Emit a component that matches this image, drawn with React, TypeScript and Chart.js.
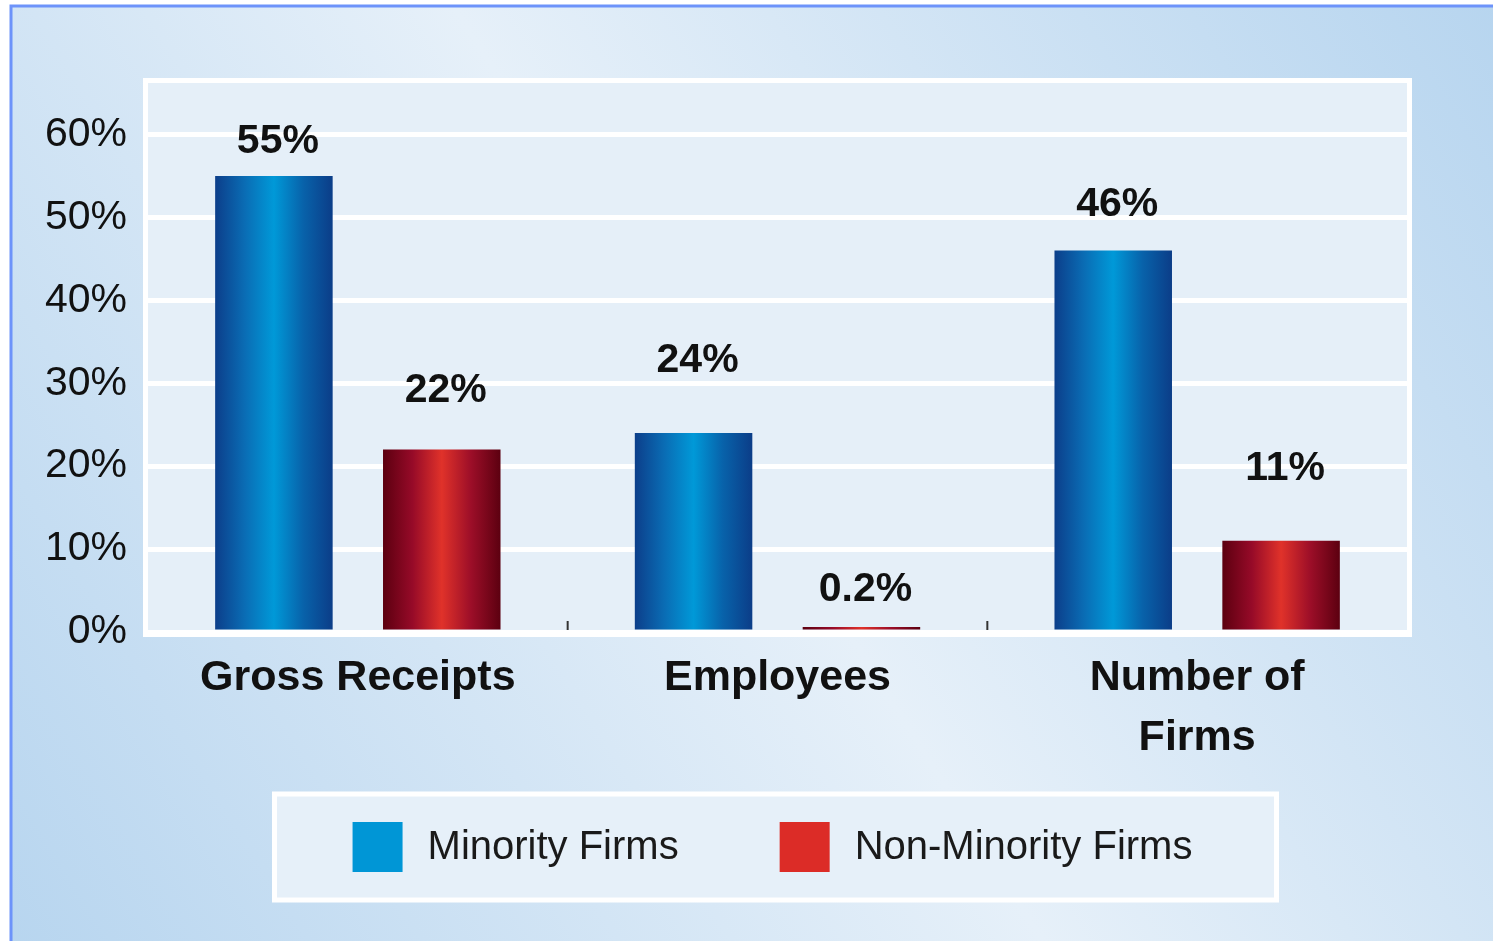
import React, { useEffect, useRef } from "react";
import { Chart, registerables } from "chart.js";

Chart.register(...registerables);

// ---- data ----
const categories: (string | string[])[] = ["Gross Receipts", "Employees", ["Number of", "Firms"]];
const seriesNames = ["Minority Firms", "Non-Minority Firms"];
const minorityFirms = [55, 24, 46];
const nonMinorityFirms = [22, 0.2, 11];
const yTickValues = [0, 10, 20, 30, 40, 50, 60];
const yMax = 66.2;

// ---- styling ----
const minorityLabelLift = [34, 72, 46];
const nonMinorityLabelLift = [59, 37, 72];
const legendColors = ["#0096d6", "#dc2c27"];
const gradientStops = [
  ["#0c3e8a", "#0a6cb4", "#0099d8", "#0862aa", "#0b3d88"],
  ["#5c0010", "#960a28", "#e0322a", "#9c0e28", "#5c0010"],
];
const CAT_PCT = 0.8;
const BAR_PCT = 0.7;
const FONT = '"Liberation Sans", Arial, sans-serif';

function barFill(ctx: any) {
  const chart = ctx.chart;
  const ds = ctx.datasetIndex;
  const xs = chart.scales && chart.scales.x;
  if (!xs || ctx.dataIndex == null || !chart.chartArea) return legendColors[ds];
  const n = chart.data.labels.length;
  const catW = xs.width / n;
  const slot = (catW * CAT_PCT) / 2;
  const center = xs.getPixelForValue(ctx.dataIndex) + (ds - 0.5) * slot;
  const half = (slot * BAR_PCT) / 2;
  const g = chart.ctx.createLinearGradient(center - half, 0, center + half, 0);
  const stops = gradientStops[ds];
  stops.forEach((c: string, i: number) => g.addColorStop(i / (stops.length - 1), c));
  return g;
}

const decor = {
  id: "decor",
  beforeDraw(chart: any) {
    const { ctx, width, height, chartArea: a } = chart;
    ctx.save();
    ctx.fillStyle = "#ffffff";
    ctx.fillRect(0, 0, width, height);
    const g = ctx.createLinearGradient(0, height, width, 0);
    g.addColorStop(0, "#b7d5ef");
    g.addColorStop(0.5, "#e6f0f9");
    g.addColorStop(1, "#b7d5ef");
    ctx.fillStyle = g;
    ctx.fillRect(11, 6, width - 11, height - 6);
    ctx.strokeStyle = "#6d93fa";
    ctx.lineWidth = 3;
    ctx.beginPath();
    ctx.moveTo(11, height);
    ctx.lineTo(11, 6);
    ctx.lineTo(width, 6);
    ctx.stroke();
    ctx.fillStyle = "#e5eff8";
    ctx.fillRect(a.left, a.top, a.right - a.left, a.bottom - a.top);
    ctx.restore();
  },
  beforeDatasetsDraw(chart: any) {
    const { ctx, chartArea: a } = chart;
    const xs = chart.scales.x;
    ctx.save();
    ctx.strokeStyle = "#ffffff";
    ctx.lineWidth = 5;
    ctx.strokeRect(a.left - 2.5, a.top - 2.5, a.right - a.left + 5, a.bottom - a.top + 5);
    ctx.strokeStyle = "#333333";
    ctx.lineWidth = 2;
    const n = chart.data.labels.length;
    for (let i = 0; i < n - 1; i++) {
      const bx = (xs.getPixelForValue(i) + xs.getPixelForValue(i + 1)) / 2;
      ctx.beginPath();
      ctx.moveTo(bx, a.bottom - 11);
      ctx.lineTo(bx, a.bottom - 2);
      ctx.stroke();
    }
    ctx.restore();
  },
  afterDatasetsDraw(chart: any) {
    const { ctx } = chart;
    ctx.save();
    ctx.font = `bold 41px ${FONT}`;
    ctx.fillStyle = "#111111";
    ctx.textAlign = "center";
    ctx.textBaseline = "middle";
    const lifts = [minorityLabelLift, nonMinorityLabelLift];
    chart.data.datasets.forEach((ds: any, di: number) => {
      const meta = chart.getDatasetMeta(di);
      meta.data.forEach((el: any, i: number) => {
        const v = ds.data[i];
        ctx.fillText(`${v}%`, el.x + 4, el.y - lifts[di][i]);
      });
    });
    ctx.restore();
  },
  afterDraw(chart: any) {
    const { ctx, chartArea: a } = chart;
    const cx = (a.left + a.right) / 2 - 2;
    const boxW = 1002;
    const boxH = 106;
    const boxTop = 794;
    ctx.save();
    ctx.fillStyle = "#e6f0f9";
    ctx.fillRect(cx - boxW / 2, boxTop, boxW, boxH);
    ctx.strokeStyle = "#ffffff";
    ctx.lineWidth = 5;
    ctx.strokeRect(cx - boxW / 2, boxTop, boxW, boxH);
    ctx.font = `40px ${FONT}`;
    ctx.textBaseline = "middle";
    ctx.textAlign = "left";
    const sw = 50;
    const gapText = 25;
    const gapItem = 101;
    const names = chart.data.datasets.map((d: any) => d.label);
    const widths = names.map((t: string) => ctx.measureText(t).width);
    const total = widths.reduce((s: number, w: number) => s + sw + gapText + w, 0) + gapItem * (names.length - 1);
    let x = cx - total / 2 - 3;
    const cy = boxTop + boxH / 2;
    names.forEach((t: string, i: number) => {
      ctx.fillStyle = legendColors[i];
      ctx.fillRect(x, cy - sw / 2, sw, sw);
      ctx.fillStyle = "#1a1a1a";
      ctx.fillText(t, x + sw + gapText, cy + 1);
      x += sw + gapText + widths[i] + gapItem;
    });
    ctx.restore();
  },
};

export default function App() {
  const ref = useRef<HTMLCanvasElement>(null);
  useEffect(() => {
    if (!ref.current) return;
    const chart = new Chart(ref.current, {
      type: "bar",
      data: {
        labels: categories as any,
        datasets: [
          {
            label: seriesNames[0],
            data: minorityFirms,
            backgroundColor: barFill as any,
            borderWidth: 0,
            categoryPercentage: CAT_PCT,
            barPercentage: BAR_PCT,
          },
          {
            label: seriesNames[1],
            data: nonMinorityFirms,
            backgroundColor: barFill as any,
            borderWidth: 0,
            categoryPercentage: CAT_PCT,
            barPercentage: BAR_PCT,
            minBarLength: 5,
          },
        ],
      },
      options: {
        responsive: false,
        animation: false,
        devicePixelRatio: 1,
        layout: { padding: { top: 83, right: 86, left: 0, bottom: 0 } },
        plugins: {
          legend: { display: false },
          tooltip: { enabled: false },
          title: { display: false },
        },
        scales: {
          x: {
            grid: { display: false, drawTicks: false },
            border: { display: false },
            ticks: {
              padding: 16,
              color: "#111111",
              font: { family: FONT, size: 43, weight: "bold", lineHeight: 1.4 },
              maxRotation: 0,
              autoSkip: false,
            },
            afterFit: (scale: any) => {
              scale.height = 309;
            },
          },
          y: {
            min: 0,
            max: yMax,
            grid: { color: "#ffffff", lineWidth: 5, drawTicks: false },
            border: { display: false },
            ticks: {
              stepSize: 10,
              padding: 21,
              color: "#111111",
              font: { family: FONT, size: 41 },
              callback: (v: any) => `${v}%`,
            },
            afterBuildTicks: (scale: any) => {
              scale.ticks = yTickValues.map((v) => ({ value: v }));
            },
            afterFit: (scale: any) => {
              scale.width = 148;
            },
          },
        },
      },
      plugins: [decor],
    });
    return () => chart.destroy();
  }, []);
  return (
    <canvas
      ref={ref}
      width={1493}
      height={941}
      style={{ position: "fixed", left: 0, top: 0, display: "block" }}
    />
  );
}
